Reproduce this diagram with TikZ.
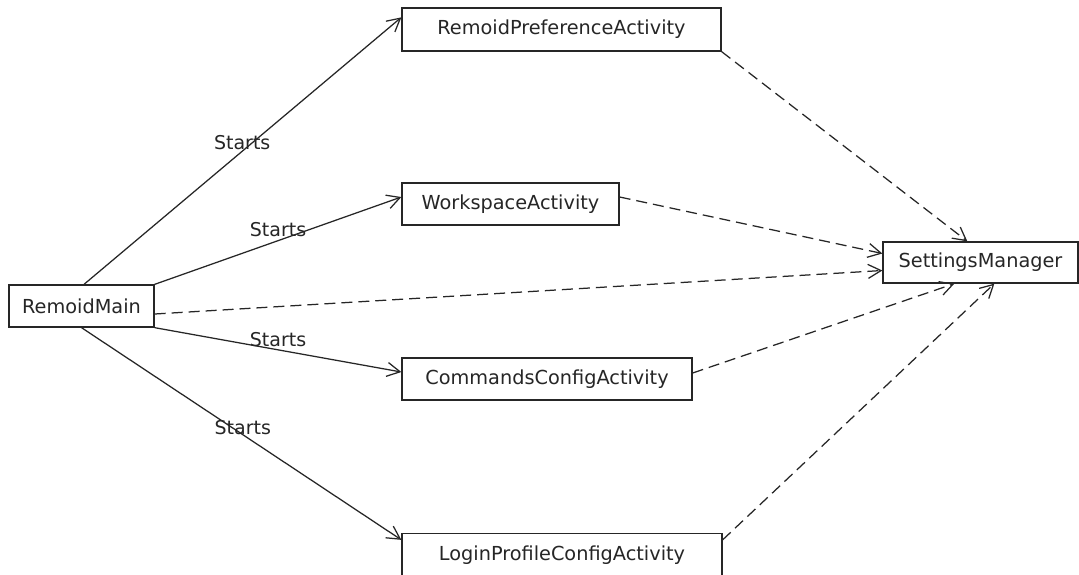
\documentclass[tikz,border=0pt]{standalone}
\usepackage{fontspec}
\setmainfont{DejaVu Sans}
\usetikzlibrary{arrows.meta,calc}
\begin{document}
\begin{tikzpicture}[x=1pt,y=-1pt,
  cls/.style={draw=black!85, line width=1.3pt, fill=white, inner sep=0pt,
    font=\fontsize{19.3}{23}\selectfont, text=black!85},
  starts/.style={draw=black!85, line width=1.25pt,
    -{Straight Barb[length=13pt,width=14pt,line width=1.25pt]}},
  uses/.style={draw=black!85, line width=1.25pt, dash pattern=on 11pt off 6pt,
    -{Straight Barb[length=13pt,width=14pt,line width=1.25pt]}},
  lbl/.style={font=\fontsize{19}{23}\selectfont, text=black!85, inner sep=0pt}]
\useasboundingbox (0,0) rectangle (1079,574);
\fill[white] (0,0) rectangle (1079,574);

% classes
\node[cls, minimum width=145pt, minimum height=42pt] (rmain) at (81.5,306) {RemoidMain};
\node[cls, minimum width=319pt, minimum height=43pt] (pref) at (561.5,29.5) {RemoidPreferenceActivity};
\node[cls, minimum width=217pt, minimum height=42pt] (work) at (510.5,204) {WorkspaceActivity};
\node[cls, minimum width=290pt, minimum height=42pt] (cmd) at (547,379) {CommandsConfigActivity};
\node[cls, minimum width=320pt, minimum height=43pt] (login) at (562,555) {LoginProfileConfigActivity};
\node[cls, minimum width=195pt, minimum height=41pt] (settings) at (980.5,262.5) {SettingsManager};

% RemoidMain starts the activities
\draw[starts] ($(rmain.north)+(2.5,0)$) -- ($(pref.north west)+(0,10)$)
  node[lbl, pos=0.53, xshift=-10pt] (s1) {Starts};
\draw[starts] (rmain.north east) -- ($(work.west)+(0,-7)$)
  node[lbl, pos=0.5, yshift=11pt] (s2) {Starts};
\draw[starts] (rmain.south east) -- ($(cmd.west)+(0,-7)$)
  node[lbl, pos=0.5, yshift=10pt] (s3) {Starts};
\draw[starts] (rmain.south) -- ($(login.north west)+(0,7)$)
  node[lbl, pos=0.47, xshift=11pt] (s4) {Starts};

% dependencies on SettingsManager
\draw[uses] (pref.south east) -- ($(settings.north west)+(85,0)$);
\draw[uses] ($(work.east)+(0,-7)$) -- ($(settings.west)+(0,-9)$);
\draw[uses] ($(rmain.east)+(0,8)$) -- ($(settings.west)+(0,8)$);
\draw[uses] ($(cmd.east)+(0,-6)$) -- ($(settings.south west)+(72,0)$);
\draw[uses] ($(login.north east)+(0,7)$) -- ($(settings.south west)+(112,0)$);
\end{tikzpicture}
\end{document}
